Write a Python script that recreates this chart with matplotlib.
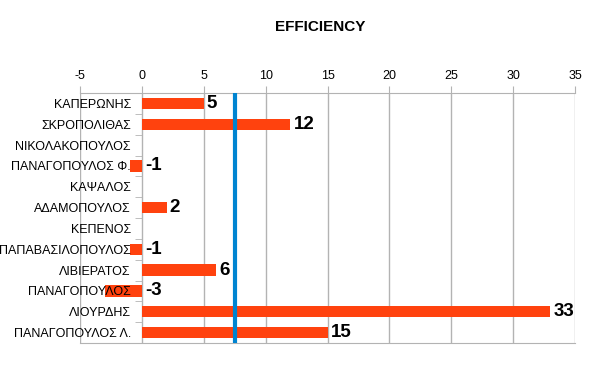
import matplotlib
matplotlib.use("Agg")
import matplotlib.pyplot as plt
import numpy as np

plt.rcParams['font.family'] = ['Liberation Sans', 'DejaVu Sans']

names = ["ΚΑΠΕΡΩΝΗΣ", "ΣΚΡΟΠΟΛΙΘΑΣ", "ΝΙΚΟΛΑΚΟΠΟΥΛΟΣ", "ΠΑΝΑΓΟΠΟΥΛΟΣ Φ.",
         "ΚΑΨΑΛΟΣ", "ΑΔΑΜΟΠΟΥΛΟΣ", "ΚΕΠΕΝΟΣ", "ΠΑΠΑΒΑΣΙΛΟΠΟΥΛΟΣ",
         "ΛΙΒΙΕΡΑΤΟΣ", "ΠΑΝΑΓΟΠΟΥΛΟΣ", "ΛΙΟΥΡΔΗΣ", "ΠΑΝΑΓΟΠΟΥΛΟΣ Λ."]
efficiency = [5, 12, 0, -1, 0, 2, 0, -1, 6, -3, 33, 15]
average_line = 7.56
x_ticks = [-5, 0, 5, 10, 15, 20, 25, 30, 35]

fig = plt.figure(figsize=(6.04, 3.68), dpi=100)
ax = fig.add_axes([80/604, 1-343/368, (575-80)/604, (343-93)/368])

y = np.arange(len(names))
ax.barh(y, efficiency, height=0.55, color='#FF420E', zorder=1)
ax.axvline(average_line, color='#0084D1', lw=3, zorder=3)

for yi, v in zip(y, efficiency):
    if v != 0:
        ax.text(max(v, 0) + 0.25, yi, str(v), va='center', ha='left',
                fontsize=13.5, fontweight='bold', color='black', zorder=4)

ax.set_xlim(-5, 35)
ax.set_ylim(len(names) - 0.5, -0.5)
ax.set_xticks(x_ticks)
ax.set_xticklabels([str(t) for t in x_ticks])
ax.xaxis.tick_top()
ax.tick_params(axis='x', length=5, color='#b3b3b3', labelsize=9, pad=3, labelcolor='black')
ax.vlines(x_ticks, -0.5, len(names) - 0.5, color='#b3b3b3', lw=1, zorder=0)

# category axis at x = 0
ax.spines['left'].set_position(('data', 0))
ax.spines['left'].set_visible(False)
ax.spines['right'].set_visible(False)
ax.spines['top'].set_color('#b3b3b3')
ax.spines['bottom'].set_color('#b3b3b3')
ax.set_yticks(y)
ax.set_yticklabels(names)
ax.set_yticks(np.arange(len(names) + 1) - 0.5, minor=True)
ax.tick_params(axis='y', which='major', length=0, labelsize=9, pad=8)
ax.tick_params(axis='y', which='minor', length=5, color='#b3b3b3')

fig.text(320/604, 1-27/368, "EFFICIENCY", ha='center', va='center',
         fontsize=11, fontweight='bold')

fig.savefig("out.png", dpi=100)
